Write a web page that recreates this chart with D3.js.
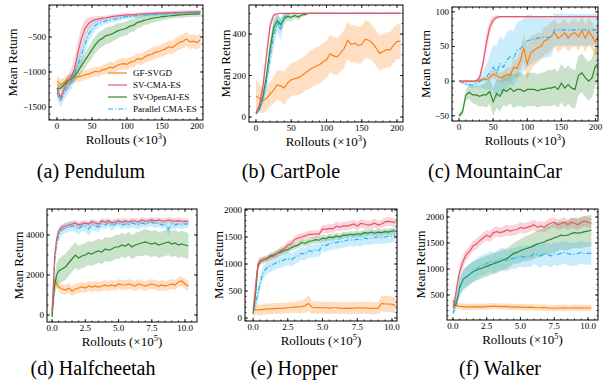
<!DOCTYPE html>
<html>
<head>
<meta charset="utf-8">
<script src="https://cdn.jsdelivr.net/npm/d3@7"></script>
<style>
  body { margin: 0; background: #fff; }
</style>
</head>
<body>
<svg id="fig" width="603" height="382" font-family="'Liberation Serif', 'DejaVu Serif', serif"></svg>
<script>
// ---- data ----
const topX = [0,5,10,15,20,25,30,35,40,45,50,55,60,65,70,75,80,85,90,95,100,105,110,115,120,125,130,135,140,145,150,155,160,165,170,175,180,185,190,195,200,205];
const botX = [0,0.1,0.2,0.35,0.5,0.75,1,1.25,1.5,1.75,2,2.25,2.5,2.75,3,3.25,3.5,3.75,4,4.25,4.5,4.75,5,5.25,5.5,5.75,6,6.25,6.5,6.75,7,7.25,7.5,7.75,8,8.25,8.5,8.75,9,9.25,9.5,9.75,10,10.25];

const seriesNames = ['GF-SVGD', 'SV-CMA-ES', 'SV-OpenAI-ES', 'Parallel CMA-ES'];

// Pendulum
const pendGF = [-1130,-1180,-1150,-1110,-1100,-1090,-1070,-1060,-1040,-1030,-1010,-990,-1000,-970,-960,-930,-940,-910,-890,-880,-890,-860,-850,-810,-820,-790,-760,-750,-720,-710,-690,-670,-640,-650,-610,-580,-560,-530,-570,-560,-580,-540];
const pendGFsd = [90,80,70,70,70,70,70,70,70,70,70,70,70,70,75,75,75,80,80,80,80,80,80,80,80,85,85,90,90,90,90,90,95,95,100,100,100,100,100,100,100,100];
const pendCMA = [-1230,-1370,-1250,-1150,-1080,-960,-720,-520,-380,-310,-270,-250,-240,-230,-225,-215,-205,-200,-195,-190,-185,-185,-180,-175,-172,-170,-168,-165,-163,-160,-160,-158,-155,-155,-152,-150,-150,-148,-146,-145,-143,-142];
const pendCMAsd = [80,60,80,100,120,150,170,160,130,90,60,45,40,35,30,30,30,30,30,30,30,25,25,25,25,25,25,25,25,25,25,25,25,25,25,25,25,25,25,25,25,25];
const pendOAI = [-1240,-1230,-1180,-1130,-1100,-1060,-990,-910,-830,-760,-680,-610,-550,-520,-480,-470,-450,-420,-400,-390,-370,-340,-330,-290,-280,-260,-250,-235,-225,-220,-210,-205,-200,-195,-190,-185,-182,-178,-175,-172,-170,-168];
const pendOAIsd = [60,50,50,60,70,80,90,100,110,110,120,120,120,120,120,120,110,110,100,100,100,90,90,80,80,70,70,60,60,50,50,50,40,40,40,40,40,40,40,40,40,40];
const pendPar = [-1300,-1420,-1300,-1220,-1150,-1020,-900,-760,-600,-460,-390,-330,-300,-285,-270,-260,-250,-240,-230,-220,-210,-205,-200,-195,-190,-185,-180,-175,-172,-170,-168,-165,-162,-160,-158,-156,-155,-153,-152,-150,-150,-148];
const pendParsd = [80,90,100,100,100,110,120,120,110,100,90,70,60,50,45,40,40,40,40,35,35,35,30,30,30,30,30,30,30,30,30,30,30,30,30,30,30,30,30,30,30,30];

// CartPole
const cartGF = [100,90,78,90,110,130,155,150,140,165,180,185,190,200,212,225,236,245,252,265,276,305,295,290,308,330,370,350,356,345,350,375,370,357,335,308,315,325,324,345,365,365];
const cartGFsd = [80,70,60,60,60,65,70,75,80,80,80,80,85,85,85,90,90,90,90,90,90,90,90,90,90,90,90,90,90,90,90,90,90,85,85,85,85,85,85,85,85,85];
const cartCMA = [20,60,150,300,440,490,498,500,500,500,500,500,500,500,500,500,500,500,500,500,500,500,500,500,500,500,500,500,500,500,500,500,500,500,500,500,500,500,500,500,500,500];
const cartCMAsd = [5,15,30,40,30,10,3,2,0,0,0,0,0,0,0,0,0,0,0,0,0,0,0,0,0,0,0,0,0,0,0,0,0,0,0,0,0,0,0,0,0,0];
const cartOAI = [15,40,100,200,330,430,465,445,475,485,480,490,482,492,495,500,500,500,500,500,500,500,500,500,500,500,500,500,500,500,500,500,500,500,500,500,500,500,500,500,500,500];
const cartOAIsd = [5,10,20,30,40,40,30,30,25,20,20,15,15,10,8,3,0,0,0,0,0,0,0,0,0,0,0,0,0,0,0,0,0,0,0,0,0,0,0,0,0,0];
const cartPar = [20,40,85,170,290,390,455,420,480,495,500,500,500,500,500,500,500,500,500,500,500,500,500,500,500,500,500,500,500,500,500,500,500,500,500,500,500,500,500,500,500,500];
const cartParsd = [5,10,25,40,50,60,45,50,20,8,2,0,0,0,0,0,0,0,0,0,0,0,0,0,0,0,0,0,0,0,0,0,0,0,0,0,0,0,0,0,0,0];

// MountainCar
const mcGF = [0,0,0,0,0,0,1,3,2,5,10,8,5,6,10,8,20,18,30,48,25,40,45,48,50,58,60,65,70,62,65,70,62,68,70,64,73,62,72,65,56,68];
const mcGFsd = [0,0,0,0,0,1,2,3,4,5,6,8,8,8,10,10,12,14,16,20,25,25,22,22,20,20,20,20,20,20,20,20,20,20,20,20,20,20,20,20,20,20];
const mcCMA = [0,0,0,0,0,0,5,25,55,78,88,92,93,93,93,93,93,93,93,93,93,93,93,93,93,93,93,93,93,93,93,93,93,93,93,93,93,93,93,93,93,93];
const mcCMAsd = [0,0,0,0,0,0,3,8,12,10,6,3,1,1,1,1,1,1,1,1,1,1,1,1,1,1,1,1,1,1,1,1,1,1,1,1,1,1,1,1,1,1];
const mcOAI = [-50,-45,-20,-16,-20,-20,-22,-20,-20,-15,-30,-18,-22,-12,-15,-10,-15,-12,-12,-15,-12,-12,-12,-14,-12,-12,-10,-10,-8,-12,-3,-10,-5,-10,-12,8,12,5,0,5,22,25];
const mcOAIsd = [3,5,8,10,12,14,15,16,18,18,20,20,22,22,22,22,24,24,24,24,24,24,24,24,24,24,26,26,26,26,28,28,28,28,28,28,28,28,28,28,28,28];
const mcPar = [0,-2,-4,-5,-6,-3,-1,2,6,12,20,12,25,20,30,35,32,45,47,52,58,60,60,62,63,63,63,63,74,74,74,74,74,74,74,74,74,74,74,74,74,74];
const mcParsd = [1,2,3,4,5,6,8,12,18,25,32,38,40,40,40,40,40,40,40,38,38,36,34,32,30,30,28,28,24,23,23,23,23,23,23,23,23,23,23,23,23,23];

// Halfcheetah
const hcGF = [0,1000,1700,1600,1400,1300,1250,1350,1200,1300,1350,1400,1350,1450,1400,1450,1400,1450,1500,1450,1500,1450,1550,1500,1500,1550,1500,1450,1550,1500,1450,1500,1550,1500,1450,1500,1450,1500,1550,1500,1650,1700,1550,1450];
const hcGFsd = [100,300,250,250,250,250,250,250,250,250,250,250,250,250,250,250,250,250,250,250,250,250,250,250,250,250,250,250,250,250,250,250,250,250,250,250,250,250,250,250,250,250,250,250];
const hcCMA = [200,1500,3000,3800,4200,4400,4450,4500,4550,4600,4500,4550,4600,4550,4650,4600,4550,4700,4650,4700,4600,4650,4700,4650,4700,4650,4700,4700,4650,4750,4700,4700,4750,4700,4750,4700,4700,4750,4700,4700,4720,4700,4680,4680];
const hcCMAsd = [100,300,300,250,200,150,150,150,150,150,150,150,150,150,150,150,150,150,150,150,150,150,150,150,150,150,150,150,150,150,150,150,150,150,150,150,150,150,150,150,150,150,150,150];
const hcOAI = [-100,800,1500,2000,2200,2300,2400,2600,2800,3000,2850,2950,3000,3100,3050,3150,3200,3150,3300,3250,3300,3400,3400,3500,3450,3550,3400,3500,3550,3600,3650,3600,3550,3600,3500,3550,3600,3650,3550,3600,3500,3550,3500,3450];
const hcOAIsd = [100,400,500,600,600,650,650,650,650,650,600,600,600,600,600,600,600,600,600,600,600,600,600,600,600,600,600,600,600,650,650,650,650,650,650,650,650,650,650,650,650,650,650,650];
const hcPar = [150,1200,2700,3600,4000,4250,4350,4400,4450,4400,4300,4450,4400,4300,4500,4450,4400,4550,4500,4600,4450,4550,4600,4500,4550,4500,4600,4550,4500,4600,4550,4600,4650,4550,4600,4500,4550,4300,4550,4500,4550,4500,4550,4550];
const hcParsd = [100,300,350,350,300,250,250,250,250,250,300,250,250,350,250,250,250,200,200,200,250,200,200,200,200,200,200,200,200,200,200,200,200,200,200,200,200,350,250,200,200,200,200,200];

// Hopper
const hopGF = [200,160,150,150,150,160,170,170,175,180,180,185,190,195,200,205,210,230,270,200,190,195,190,190,185,190,190,185,180,185,180,185,190,185,190,185,180,180,180,270,260,260,255,230];
const hopGFsd = [300,100,100,100,100,100,100,100,100,100,100,100,100,100,100,110,120,130,150,120,110,110,110,110,110,110,110,110,110,110,110,110,110,110,110,110,110,110,110,150,150,150,150,150];
const hopCMA = [150,350,650,1000,1050,1080,1100,1130,1150,1200,1250,1280,1350,1380,1450,1480,1500,1520,1550,1550,1560,1550,1650,1640,1660,1650,1700,1680,1710,1700,1720,1740,1700,1750,1740,1720,1730,1760,1720,1740,1780,1790,1780,1760];
const hopCMAsd = [50,100,100,80,70,60,60,60,60,70,70,70,70,70,70,70,70,70,70,70,70,70,70,80,80,80,80,80,80,80,80,80,80,80,80,80,80,80,80,80,80,80,80,80];
const hopOAI = [80,250,500,950,1050,1080,1100,1150,1170,1200,1220,1250,1260,1300,1330,1350,1400,1380,1420,1430,1450,1440,1480,1470,1500,1490,1520,1500,1540,1530,1550,1540,1560,1550,1580,1570,1590,1570,1590,1580,1600,1590,1610,1620];
const hopOAIsd = [40,80,100,70,60,50,50,60,60,60,60,60,60,60,60,60,60,60,60,60,60,60,60,60,60,60,60,60,60,60,60,60,60,60,60,60,60,60,60,60,60,60,60,60];
const hopPar = [150,200,280,450,650,850,930,970,1000,1030,1050,1080,1100,1080,1120,1150,1200,1180,1250,1230,1260,1250,1350,1340,1380,1390,1400,1410,1420,1440,1450,1440,1460,1440,1480,1470,1480,1490,1500,1490,1500,1510,1520,1540];
const hopParsd = [50,80,100,120,130,120,120,120,120,120,120,120,120,120,120,120,120,120,120,120,120,120,120,120,120,120,120,120,120,120,120,120,120,120,120,120,120,120,120,120,120,120,120,120];

// Walker
const walkGF = [400,330,300,290,280,275,270,270,270,275,270,270,275,280,285,280,275,280,275,270,265,270,265,260,260,265,260,255,255,260,250,250,245,250,250,255,250,250,255,250,255,250,250,250];
const walkGFsd = [60,60,60,60,60,60,60,60,60,60,60,60,60,60,60,60,60,60,60,60,60,60,60,60,60,60,60,60,60,60,60,60,60,60,60,60,60,60,60,60,60,60,60,60];
const walkCMA = [250,350,500,750,950,1150,1280,1350,1450,1480,1550,1600,1650,1620,1700,1720,1700,1720,1750,1730,1750,1760,1800,1780,1800,1820,1850,1800,1830,1800,1850,1880,1900,1850,1870,1900,1850,1900,1880,1850,1900,1920,1900,1880];
const walkCMAsd = [80,100,120,130,130,120,100,100,100,100,100,100,100,100,100,100,100,100,100,100,100,100,100,100,100,100,100,100,100,100,100,100,100,100,100,100,100,100,100,100,100,100,100,100];
const walkOAI = [300,300,300,450,650,800,850,900,950,980,1000,1030,1050,1080,1100,1120,1150,1180,1200,1250,1300,1320,1350,1380,1400,1420,1450,1480,1500,1520,1550,1570,1600,1620,1650,1640,1650,1680,1700,1690,1700,1720,1730,1750];
const walkOAIsd = [50,60,80,120,150,180,200,200,200,200,200,200,200,200,200,200,200,200,200,200,200,220,220,230,240,250,250,260,260,260,270,270,280,280,280,280,290,290,290,290,300,300,300,300];
const walkPar = [150,220,350,500,650,780,850,900,950,1000,1050,1080,1100,1150,1120,1150,1200,1180,1150,1200,1200,1220,1250,1230,1250,1240,1300,1280,1250,1300,1280,1250,1300,1280,1300,1320,1300,1280,1280,1300,1320,1300,1300,1300];
const walkParsd = [50,80,100,150,180,200,200,200,200,200,200,200,200,200,200,200,200,220,200,200,200,200,200,200,200,200,200,220,220,220,220,220,220,220,220,220,220,220,220,220,220,220,220,220];

// tick values
const topXTicks = [0, 50, 100, 150, 200];
const botXTicks = [0, 2.5, 5, 7.5, 10];

const colors = ['#ff7f0e', '#e8566c', '#2a8a2a', '#2db4f0'];
const dashes = [null, null, null, '5,2,1.2,2'];
const FONT = "'Liberation Serif', 'DejaVu Serif', serif";

// ---- layout ----
const panels = [
  {cap: '(a) Pendulum', x: topX, s: [pendGF, pendCMA, pendOAI, pendPar], sd: [pendGFsd, pendCMAsd, pendOAIsd, pendParsd],
   L: 49, R: 203, T: 5, B: 120, xd: [-11.4, 208.6], yd: [-1686, -43], xt: topXTicks, yt: [-1500, -1000, -500],
   xfmt: d3.format('d'), yl: 12, capX: 91, capY: 178, legend: true, xminor: 10, yminor: 100, exp: '3'},
  {cap: '(b) CartPole', x: topX, s: [cartGF, cartCMA, cartOAI, cartPar], sd: [cartGFsd, cartCMAsd, cartOAIsd, cartParsd],
   L: 249, R: 403, T: 5, B: 122, xd: [-9.9, 208.5], yd: [-24, 540], xt: topXTicks, yt: [0, 200, 400],
   xfmt: d3.format('d'), yl: 225, capX: 291, capY: 178, xminor: 10, yminor: 50, exp: '3'},
  {cap: '(c) MountainCar', x: topX, s: [mcGF, mcCMA, mcOAI, mcPar], sd: [mcGFsd, mcCMAsd, mcOAIsd, mcParsd],
   L: 452, R: 598, T: 7, B: 121, xd: [-10.3, 203.7], yd: [-57.6, 107], xt: topXTicks, yt: [-50, 0, 50, 100],
   xfmt: d3.format('d'), yl: 425, capX: 495, capY: 178, xminor: 10, yminor: 10, exp: '3'},
  {cap: '(d) Halfcheetah', x: botX, s: [hcGF, hcCMA, hcOAI, hcPar], sd: [hcGFsd, hcCMAsd, hcOAIsd, hcParsd],
   L: 47, R: 197, T: 209, B: 322, xd: [-0.38, 10.9], yd: [-350, 5300], xt: botXTicks, yt: [0, 2000, 4000],
   xfmt: d3.format('.1f'), yl: 18, capX: 93, capY: 375, xminor: 0.5, yminor: 500, exp: '5'},
  {cap: '(e) Hopper', x: botX, s: [hopGF, hopCMA, hopOAI, hopPar], sd: [hopGFsd, hopCMAsd, hopOAIsd, hopParsd],
   L: 245, R: 397, T: 209, B: 321, xd: [-0.58, 10.36], yd: [-55, 2018], xt: botXTicks, yt: [0, 500, 1000, 1500, 2000],
   xfmt: d3.format('.1f'), yl: 218, capX: 294, capY: 375, xminor: 0.5, yminor: 100, exp: '5'},
  {cap: '(f) Walker', x: botX, s: [walkGF, walkCMA, walkOAI, walkPar], sd: [walkGFsd, walkCMAsd, walkOAIsd, walkParsd],
   L: 447, R: 598, T: 209, B: 320, xd: [-0.44, 10.74], yd: [19, 2154], xt: botXTicks, yt: [500, 1000, 1500, 2000],
   xfmt: d3.format('.1f'), yl: 420, capX: 500, capY: 375, xminor: 0.5, yminor: 100, exp: '5'}
];

const svg = d3.select('#fig');

function label(sel) {
  return sel.append('text').attr('font-family', FONT).attr('fill', '#000');
}

panels.forEach((p, pi) => {
  const x = d3.scaleLinear().domain(p.xd).range([p.L, p.R]);
  const y = d3.scaleLinear().domain(p.yd).range([p.B, p.T]);
  const g = svg.append('g');
  const clipId = 'clip' + pi;
  g.append('clipPath').attr('id', clipId).append('rect')
    .attr('x', p.L).attr('y', p.T).attr('width', p.R - p.L).attr('height', p.B - p.T);
  const plot = g.append('g').attr('clip-path', `url(#${clipId})`);

  // bands first, then lines
  p.s.forEach((vals, si) => {
    const area = d3.area()
      .x((d, i) => x(p.x[i]))
      .y0((d, i) => y(d - p.sd[si][i]))
      .y1((d, i) => y(d + p.sd[si][i]));
    plot.append('path').datum(vals)
      .attr('d', area)
      .attr('fill', colors[si])
      .attr('fill-opacity', 0.25);
  });
  const order = [0, 2, 3, 1];
  order.forEach(si => {
    const line = d3.line().x((d, i) => x(p.x[i])).y(d => y(d));
    plot.append('path').datum(p.s[si])
      .attr('d', line)
      .attr('fill', 'none')
      .attr('stroke', colors[si])
      .attr('stroke-width', 1.2)
      .attr('stroke-dasharray', dashes[si]);
  });

  // frame
  g.append('rect').attr('x', p.L).attr('y', p.T).attr('width', p.R - p.L).attr('height', p.B - p.T)
    .attr('fill', 'none').attr('stroke', '#000').attr('stroke-width', 1);

  // ticks (inward, all sides)
  const ticks = g.append('g').attr('stroke', '#000').attr('stroke-width', 0.8);
  const xMinor = d3.range(Math.ceil(p.xd[0] / p.xminor) * p.xminor, p.xd[1], p.xminor);
  const yMinor = d3.range(Math.ceil(p.yd[0] / p.yminor) * p.yminor, p.yd[1], p.yminor);
  xMinor.forEach(v => {
    ticks.append('line').attr('x1', x(v)).attr('x2', x(v)).attr('y1', p.B).attr('y2', p.B - 1.5);
    ticks.append('line').attr('x1', x(v)).attr('x2', x(v)).attr('y1', p.T).attr('y2', p.T + 1.5);
  });
  yMinor.forEach(v => {
    ticks.append('line').attr('y1', y(v)).attr('y2', y(v)).attr('x1', p.L).attr('x2', p.L + 1.5);
    ticks.append('line').attr('y1', y(v)).attr('y2', y(v)).attr('x1', p.R).attr('x2', p.R - 1.5);
  });
  p.xt.forEach(v => {
    ticks.append('line').attr('x1', x(v)).attr('x2', x(v)).attr('y1', p.B).attr('y2', p.B - 3);
    ticks.append('line').attr('x1', x(v)).attr('x2', x(v)).attr('y1', p.T).attr('y2', p.T + 3);
    label(g).attr('x', x(v)).attr('y', p.B + 9).attr('text-anchor', 'middle')
      .attr('font-size', 9).text(p.xfmt(v));
  });
  p.yt.forEach(v => {
    ticks.append('line').attr('y1', y(v)).attr('y2', y(v)).attr('x1', p.L).attr('x2', p.L + 3);
    ticks.append('line').attr('y1', y(v)).attr('y2', y(v)).attr('x1', p.R).attr('x2', p.R - 3);
    label(g).attr('x', p.L - 3).attr('y', y(v) + 3).attr('text-anchor', 'end')
      .attr('font-size', 9).text(d3.format('d')(v));
  });

  // axis labels
  const cy = (p.T + p.B) / 2;
  label(g).attr('transform', `translate(${p.yl},${cy}) rotate(-90)`)
    .attr('text-anchor', 'middle').attr('dy', '0.35em').attr('font-size', 13).text('Mean Return');
  const xl = label(g).attr('x', (p.L + p.R) / 2).attr('y', p.B + 23.5)
    .attr('text-anchor', 'middle').attr('font-size', 13);
  xl.append('tspan').text('Rollouts (×10');
  xl.append('tspan').attr('font-size', 8.5).attr('dy', -5).text(p.exp);
  xl.append('tspan').attr('dy', 5).text(')');

  // caption
  label(g).attr('x', p.capX).attr('y', p.capY).attr('text-anchor', 'middle')
    .attr('font-size', 20).text(p.cap);

  if (p.legend) {
    const lg = g.append('g');
    seriesNames.forEach((name, i) => {
      const ly = 73 + i * 12;
      lg.append('line').attr('x1', 108).attr('x2', 127).attr('y1', ly).attr('y2', ly)
        .attr('stroke', colors[i]).attr('stroke-width', 1.2).attr('stroke-dasharray', dashes[i]);
      label(lg).attr('x', 133).attr('y', ly + 3).attr('font-size', 9).text(name);
    });
  }
});
</script>
</body>
</html>
